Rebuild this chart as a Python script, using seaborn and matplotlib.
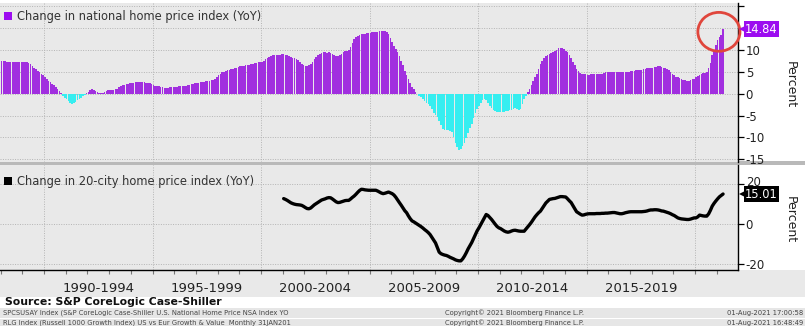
import numpy as np
import pandas as pd
import matplotlib
matplotlib.use("Agg")
import matplotlib.pyplot as plt
import matplotlib.transforms as mtransforms
from matplotlib.patches import Ellipse, Rectangle, Patch
import seaborn as sns

# ---------------------------------------------------------------- data
# S&P CoreLogic Case-Shiller U.S. National Home Price Index, YoY %, monthly from Jan 1988
national_start = 1988
national_yoy = [
    7.6, 7.5, 7.5, 7.4, 7.4, 7.3, 7.3, 7.3, 7.3, 7.2, 7.2, 7.2,            # 1988
    7.2, 7.2, 7.2, 7.1, 6.8, 6.4, 6.0, 5.6, 5.2, 4.9, 4.6, 4.2,            # 1989
    3.8, 3.4, 3.0, 2.6, 2.3, 2.0, 1.6, 1.1, 0.6, 0.1, -0.4, -0.9,          # 1990
    -1.3, -1.7, -2.0, -2.3, -2.2, -1.9, -1.5, -1.2, -0.9, -0.6, -0.3, 0.1,  # 1991
    0.4, 0.8, 1.0, 0.9, 0.7, 0.5, 0.3, 0.3, 0.3, 0.5, 0.7, 0.8,            # 1992
    0.9, 0.9, 0.9, 1.0, 1.2, 1.5, 1.8, 2.0, 2.1, 2.2, 2.3, 2.4,            # 1993
    2.5, 2.5, 2.6, 2.6, 2.6, 2.7, 2.6, 2.6, 2.5, 2.5, 2.4, 2.2,            # 1994
    2.0, 1.9, 1.8, 1.7, 1.6, 1.5, 1.4, 1.4, 1.4, 1.5, 1.5, 1.5,            # 1995
    1.6, 1.6, 1.7, 1.7, 1.7, 1.8, 1.9, 2.0, 2.1, 2.2, 2.3, 2.4,            # 1996
    2.5, 2.5, 2.6, 2.7, 2.8, 2.9, 3.0, 3.0, 3.1, 3.1, 3.4, 3.8,            # 1997
    4.2, 4.6, 4.9, 5.1, 5.3, 5.4, 5.5, 5.6, 5.7, 5.8, 6.0, 6.2,            # 1998
    6.3, 6.4, 6.4, 6.5, 6.6, 6.7, 6.8, 6.9, 7.0, 7.1, 7.2, 7.3,            # 1999
    7.4, 7.6, 7.9, 8.2, 8.5, 8.7, 8.8, 8.9, 9.0, 9.0, 9.0, 9.1,            # 2000
    9.1, 9.0, 8.9, 8.7, 8.5, 8.3, 8.2, 8.0, 7.7, 7.3, 6.9, 6.5,            # 2001
    6.4, 6.4, 6.6, 6.8, 7.3, 7.9, 8.5, 8.8, 9.1, 9.4, 9.5, 9.5,            # 2002
    9.4, 9.5, 9.3, 9.1, 8.9, 8.7, 8.7, 8.9, 9.2, 9.5, 9.7, 9.9,            # 2003
    10.0, 10.8, 11.7, 12.5, 12.9, 13.3, 13.5, 13.6, 13.7, 13.8, 13.9, 14.0,  # 2004
    14.0, 14.1, 14.1, 14.2, 14.2, 14.3, 14.3, 14.4, 14.3, 14.1, 13.6, 12.8,  # 2005
    11.8, 11.0, 10.3, 9.6, 8.7, 7.6, 6.5, 5.3, 4.3, 3.3, 2.4, 1.5,         # 2006
    1.0, 0.5, 0.0, -0.4, -0.8, -1.2, -1.6, -2.0, -2.4, -2.7, -3.5, -4.3,   # 2007
    -4.8, -5.3, -6.2, -7.1, -8.0, -8.2, -8.3, -8.4, -8.5, -8.7, -9.8, -11.2,  # 2008
    -12.2, -12.9, -12.6, -12.0, -11.3, -10.2, -9.0, -7.9, -6.8, -5.6, -4.5, -3.5,  # 2009
    -2.7, -2.1, -1.5, -1.1, -1.4, -2.0, -2.7, -3.3, -3.6, -3.9, -4.1, -4.2,  # 2010
    -4.2, -4.2, -4.1, -4.0, -3.9, -3.8, -3.6, -3.4, -3.2, -3.5, -3.8, -3.5,  # 2011
    -2.4, -1.1, -0.5, 0.4, 1.2, 2.1, 3.0, 3.8, 4.5, 5.6, 6.8, 7.6,         # 2012
    8.3, 8.6, 8.9, 9.2, 9.4, 9.5, 9.8, 10.1, 10.4, 10.6, 10.6, 10.2,       # 2013
    9.7, 9.5, 8.9, 8.1, 7.3, 6.5, 5.7, 5.2, 4.8, 4.5, 4.5, 4.5,            # 2014
    4.4, 4.4, 4.5, 4.5, 4.5, 4.5, 4.5, 4.5, 4.6, 4.8, 5.0, 5.1,            # 2015
    5.1, 5.0, 4.9, 4.9, 4.9, 5.0, 5.0, 4.9, 4.9, 4.9, 5.0, 5.1,            # 2016
    5.2, 5.3, 5.3, 5.4, 5.4, 5.4, 5.5, 5.6, 5.7, 5.8, 5.9, 6.0,            # 2017
    6.0, 6.1, 6.2, 6.3, 6.3, 6.2, 6.0, 5.8, 5.7, 5.4, 5.0, 4.6,            # 2018
    4.2, 3.9, 3.8, 3.6, 3.4, 3.2, 3.1, 3.0, 3.0, 3.2, 3.3, 3.4,            # 2019
    3.8, 4.1, 4.3, 4.6, 4.7, 4.8, 5.1, 6.0, 7.0, 8.9, 10.0, 11.2,          # 2020
    12.3, 12.9, 13.4, 14.84,                                               # 2021
]

# S&P CoreLogic Case-Shiller 20-City Composite, YoY %, monthly from Jan 2001
city20_start = 2001
city20_yoy = [
    12.7, 12.3, 11.8, 11.2, 10.6, 10.2, 9.9, 9.7, 9.6, 9.5, 9.3, 8.8,      # 2001
    8.2, 7.7, 7.6, 8.0, 8.8, 9.6, 10.2, 10.8, 11.4, 12.0, 12.3, 12.6,      # 2002
    13.0, 13.2, 13.1, 12.5, 11.8, 11.1, 10.7, 10.8, 11.1, 11.4, 11.7, 11.8,  # 2003
    11.8, 12.5, 13.3, 14.0, 14.9, 15.9, 16.8, 17.4, 17.3, 17.1, 17.0, 16.9,  # 2004
    16.9, 16.9, 16.9, 16.9, 16.5, 16.0, 15.5, 15.2, 15.4, 15.7, 16.0, 15.6,  # 2005
    15.2, 14.5, 13.4, 12.0, 10.7, 9.4, 8.0, 6.6, 5.6, 4.0, 2.6, 1.5,       # 2006
    1.0, 0.4, -0.2, -0.8, -1.4, -2.1, -2.9, -3.6, -4.4, -5.4, -6.8, -8.2,  # 2007
    -9.6, -11.9, -14.2, -15.0, -15.4, -15.7, -15.9, -16.3, -16.8, -17.2, -17.6, -18.1,  # 2008
    -18.4, -18.6, -18.6, -17.6, -16.2, -14.5, -12.6, -11.0, -9.4, -7.4, -5.3, -3.5,  # 2009
    -2.0, -0.3, 1.3, 3.0, 4.7, 4.2, 3.2, 2.2, 1.0, -0.2, -1.3, -2.0,       # 2010
    -2.4, -3.0, -3.6, -4.0, -4.2, -4.0, -3.6, -3.3, -3.2, -3.4, -3.6, -3.7,  # 2011
    -3.7, -3.7, -2.6, -1.5, -0.4, 0.8, 2.2, 3.5, 4.6, 5.6, 6.4, 7.8,       # 2012
    9.2, 10.5, 11.4, 12.3, 12.5, 12.7, 12.8, 13.1, 13.4, 13.7, 13.7, 13.6,  # 2013
    13.5, 12.6, 11.6, 10.7, 9.1, 7.6, 6.1, 5.5, 4.9, 4.4, 4.5, 4.8,        # 2014
    5.0, 5.1, 5.1, 5.1, 5.1, 5.2, 5.2, 5.2, 5.3, 5.3, 5.4, 5.4,            # 2015
    5.5, 5.6, 5.7, 5.7, 5.5, 5.3, 5.1, 5.1, 5.3, 5.6, 5.8, 6.0,            # 2016
    6.1, 6.1, 6.1, 6.1, 6.1, 6.1, 6.1, 6.2, 6.3, 6.5, 6.8, 7.0,            # 2017
    7.0, 7.1, 7.1, 7.0, 6.8, 6.5, 6.4, 6.1, 5.8, 5.5, 5.1, 4.6,            # 2018
    4.2, 3.6, 3.0, 2.7, 2.5, 2.4, 2.3, 2.2, 2.2, 2.4, 2.7, 3.0,            # 2019
    3.0, 3.5, 4.4, 4.2, 4.0, 3.9, 3.9, 5.0, 6.8, 8.9, 10.3, 11.5,          # 2020
    12.6, 13.6, 14.3, 15.01,                                               # 2021
]

period_labels = ["1990-1994", "1995-1999", "2000-2004", "2005-2009", "2010-2014", "2015-2019"]
period_starts = [1990, 1995, 2000, 2005, 2010, 2015]
boundary_years = [1990, 1995, 2000, 2005, 2010, 2015, 2020]
top_ticks = [-15, -10, -5, 0, 5, 10, 15, 20]
top_ticklabels = ["-15", "-10", "-5", "0", "5", "10", "", ""]
bottom_ticks = [-20, 0, 20]
bottom_ticklabels = ["-20", "0", "20"]

national_legend = "Change in national home price index (YoY)"
city20_legend = "Change in 20-city home price index (YoY)"
source_text = "Source: S&P CoreLogic Case-Shiller"
footer_rows = [
    ("SPCSUSAY Index (S&P CoreLogic Case-Shiller U.S. National Home Price NSA Index YO",
     "Copyright\u00a9 2021 Bloomberg Finance L.P.", "01-Aug-2021 17:00:58"),
    ("RLG Index (Russell 1000 Growth Index) US vs Eur Growth & Value  Monthly 31JAN201",
     "Copyright\u00a9 2021 Bloomberg Finance L.P.", "01-Aug-2021 16:48:49"),
]

# ---------------------------------------------------------------- style
sns.set_style("white")
plt.rcParams["font.family"] = ["DejaVu Sans"]
plt.rcParams["axes.unicode_minus"] = False

PURPLE = "#a12fdf"
PURPLE_BOX = "#9c0cf0"
CYAN = "#36eef0"
PANEL_BG = "#e9e9e9"
GRID = "#b4b4b4"
TEXT = "#222222"

W, H = 805, 326
fig = plt.figure(figsize=(W / 100, H / 100), dpi=100)
fig.patch.set_facecolor("white")


def px_axes(x0, y0, x1, y1):
    return fig.add_axes([x0 / W, 1 - y1 / H, (x1 - x0) / W, (y1 - y0) / H])


def px_rect(x0, y0, x1, y1, color, z=-1):
    fig.patches.append(Rectangle((x0 / W, 1 - y1 / H), (x1 - x0) / W, (y1 - y0) / H,
                                 transform=fig.transFigure, facecolor=color,
                                 edgecolor="none", zorder=z))


# panel separator, date band and footer bands
px_rect(0, 161.5, W, 165, "#b9b9b9")
px_rect(0, 270, W, 297, PANEL_BG)
px_rect(0, 307.5, W, 317.5, "#e6e6e6")
px_rect(0, 318.5, W, 326, "#e6e6e6")

ax1 = px_axes(0, 3, 738, 161.5)
ax2 = px_axes(0, 165, 738, 270)
XLIM = (1987.97, 2021.98)

grid_kw = dict(color=GRID, linewidth=0.7, linestyle=(0, (1, 1.5)))

# ---------------------------------------------------------------- top panel: bars
t1 = national_start + (np.arange(len(national_yoy)) + 0.5) / 12
v1 = np.array(national_yoy)
df1 = pd.DataFrame({"t": t1, "v": v1, "dir": np.where(v1 >= 0, "up", "down")})
sns.barplot(data=df1, x="t", y="v", hue="dir", palette={"up": PURPLE, "down": CYAN},
            native_scale=True, dodge=False, width=0.88, errorbar=None, legend=False,
            saturation=1, linewidth=0, ax=ax1)

ax1.set_facecolor(PANEL_BG)
ax1.set_xlim(*XLIM)
ax1.set_ylim(-15.5, 20.8)
ax1.set_axisbelow(True)
ax1.set_xticks(boundary_years)
ax1.tick_params(axis="x", length=0, labelbottom=False)
ax1.yaxis.tick_right()
ax1.set_yticks(top_ticks, top_ticklabels)
ax1.tick_params(axis="y", direction="out", length=4, width=0.9, color="black",
                labelsize=8.5, pad=1.5, labelcolor=TEXT)
ax1.grid(True, **grid_kw)
ax1.set_xlabel("")
ax1.set_ylabel("")
for side in ["left", "top", "bottom"]:
    ax1.spines[side].set_visible(False)
ax1.spines["right"].set_color("black")
ax1.spines["right"].set_linewidth(1)

ax1.legend(handles=[Patch(facecolor=PURPLE_BOX, edgecolor="none")], labels=[national_legend],
           loc="center left", bbox_to_anchor=(0.006, 0.915), frameon=False, fontsize=8.3,
           handlelength=0.7, handleheight=0.7, handletextpad=0.35, borderpad=0,
           borderaxespad=0, labelcolor="#333333")

# latest value tag and highlight ring
tr1 = mtransforms.blended_transform_factory(ax1.transAxes, ax1.transData)
last1 = national_yoy[-1]
ax1.text(1 + 7 / 738, last1, f"{last1:.2f}", transform=tr1, ha="left", va="center",
         color="white", fontsize=8.3, clip_on=False, zorder=6,
         bbox=dict(boxstyle="square,pad=0.1", facecolor=PURPLE_BOX, edgecolor="none"))
ax1.plot([1 + 4 / 738], [last1], marker="<", markersize=5, color=PURPLE_BOX,
         markeredgewidth=0, transform=tr1, clip_on=False, zorder=6)
ax1.add_patch(Ellipse((2021.1, 14.2), 1.94, 8.9, fill=False, edgecolor="#e0463c",
                      linewidth=2, clip_on=False, zorder=5))

# ---------------------------------------------------------------- bottom panel: line
t2 = city20_start + (np.arange(len(city20_yoy)) + 0.5) / 12
sns.lineplot(x=t2, y=city20_yoy, color="black", linewidth=2.4, ax=ax2)

ax2.set_facecolor(PANEL_BG)
ax2.set_xlim(*XLIM)
ax2.set_ylim(-23.2, 29.6)
ax2.set_axisbelow(True)
ax2.set_xticks(boundary_years, [""] * len(boundary_years))
ax2.set_xticks([s + 2.5 for s in period_starts], period_labels, minor=True)
ax2.tick_params(axis="x", which="major", direction="out", length=19.5, width=0.8,
                color="#a8a8a8")
ax2.tick_params(axis="x", which="minor", length=0, pad=9, labelsize=9.5, labelcolor=TEXT)
ax2.yaxis.tick_right()
ax2.set_yticks(bottom_ticks, bottom_ticklabels)
ax2.tick_params(axis="y", direction="out", length=4, width=0.9, color="black",
                labelsize=8.5, pad=1.5, labelcolor=TEXT)
ax2.grid(True, which="major", **grid_kw)
ax2.set_xlabel("")
ax2.set_ylabel("")
for side in ["left", "top"]:
    ax2.spines[side].set_visible(False)
for side in ["right", "bottom"]:
    ax2.spines[side].set_color("black")
    ax2.spines[side].set_linewidth(1)

# lift the top tick label a little so it clears the value tag below it
top_tick = ax2.yaxis.get_major_ticks()[-1]
top_tick.label2.set_transform(top_tick.label2.get_transform()
                              + mtransforms.ScaledTranslation(0, 3 / 100, fig.dpi_scale_trans))

# small yearly ticks under the date axis
trx = mtransforms.blended_transform_factory(ax2.transData, ax2.transAxes)
ax2.vlines(np.arange(1988, 2022), 0, -3.5 / 105, transform=trx, color="#777777",
           linewidth=0.8, clip_on=False)

ax2.legend(handles=[Patch(facecolor="black", edgecolor="none")], labels=[city20_legend],
           loc="center left", bbox_to_anchor=(0.006, 0.845), frameon=False, fontsize=8.3,
           handlelength=0.7, handleheight=0.7, handletextpad=0.35, borderpad=0,
           borderaxespad=0, labelcolor="#333333")

tr2 = mtransforms.blended_transform_factory(ax2.transAxes, ax2.transData)
last2 = city20_yoy[-1]
ax2.text(1 + 7 / 738, last2, f"{last2:.2f}", transform=tr2, ha="left", va="center",
         color="white", fontsize=8.3, clip_on=False, zorder=6,
         bbox=dict(boxstyle="square,pad=0.1", facecolor="black", edgecolor="none"))
ax2.plot([1 + 4 / 738], [last2], marker="<", markersize=5, color="black",
         markeredgewidth=0, transform=tr2, clip_on=False, zorder=6)

# ---------------------------------------------------------------- axis titles and footer
fig.text(790 / W, 1 - 85 / H, "Percent", rotation=270, ha="center", va="center",
         fontsize=9, color=TEXT)
fig.text(790 / W, 1 - 220 / H, "Percent", rotation=270, ha="center", va="center",
         fontsize=9, color=TEXT)

fig.text(5 / W, 1 - 302 / H, source_text, ha="left", va="center", fontsize=7.8,
         fontweight="bold", color="#111111")
for row, y in zip(footer_rows, [312.5, 322.5]):
    fig.text(3 / W, 1 - y / H, row[0], ha="left", va="center", fontsize=4.9, color="#444444")
    fig.text(445 / W, 1 - y / H, row[1], ha="left", va="center", fontsize=4.9, color="#444444")
    fig.text(803 / W, 1 - y / H, row[2], ha="right", va="center", fontsize=4.9, color="#444444")

fig.savefig("out.png", dpi=100, facecolor="white")
